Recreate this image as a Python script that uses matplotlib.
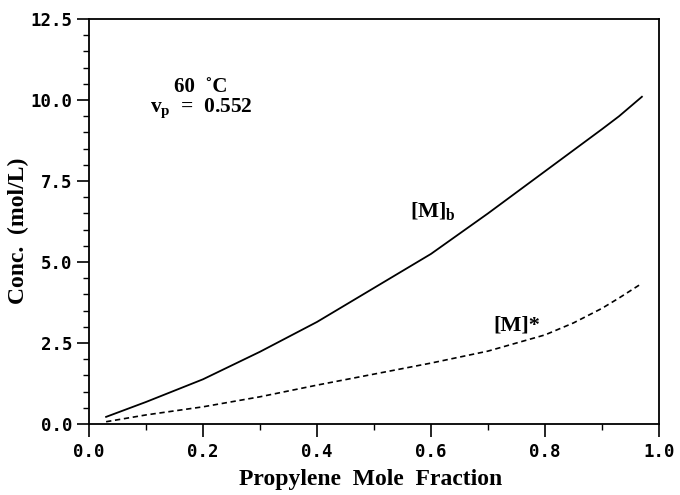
import matplotlib
matplotlib.use("Agg")
import matplotlib.pyplot as plt
from matplotlib.ticker import MultipleLocator

# Propylene mole fraction and monomer concentrations (mol/L)
x_frac = [0.03, 0.1, 0.2, 0.3, 0.4, 0.5, 0.6, 0.7, 0.8, 0.85, 0.9, 0.93, 0.97]
conc_bulk = [0.22, 0.68, 1.38, 2.23, 3.15, 4.20, 5.25, 6.50, 7.80, 8.45, 9.10, 9.50, 10.10]
conc_star = [0.07, 0.28, 0.53, 0.84, 1.20, 1.54, 1.88, 2.25, 2.75, 3.12, 3.57, 3.89, 4.34]

x_ticks = [0.0, 0.2, 0.4, 0.6, 0.8, 1.0]
x_ticklabels = ["0.0", "0.2", "0.4", "0.6", "0.8", "1.0"]
y_ticks = [0.0, 2.5, 5.0, 7.5, 10.0, 12.5]
y_ticklabels = ["0.0", "2.5", "5.0", "7.5", "10.0", "12.5"]

plt.rcParams["mathtext.fontset"] = "custom"
plt.rcParams["mathtext.rm"] = "Liberation Serif:bold"
plt.rcParams["mathtext.it"] = "Liberation Serif:bold"
plt.rcParams["mathtext.bf"] = "Liberation Serif:bold"

serif = dict(family="Liberation Serif", weight="bold")
mono = dict(family="DejaVu Sans Mono", weight="bold", size=12.5)

fig = plt.figure(figsize=(6.8, 4.95), dpi=100)
ax = fig.add_axes([89 / 680, 71 / 495, 570 / 680, 405 / 495])

ax.plot(x_frac, conc_bulk, color="black", lw=1.3)
ax.plot(x_frac, conc_star, color="black", lw=1.2, linestyle=(0, (3.2, 2.2)))

ax.set_xlim(0, 1.0)
ax.set_ylim(0, 12.5)
ax.set_xticks(x_ticks)
ax.set_xticklabels(x_ticklabels, fontdict=mono)
ax.set_yticks(y_ticks)
ax.set_yticklabels(y_ticklabels, fontdict=mono)
ax.xaxis.set_minor_locator(MultipleLocator(0.1))
ax.yaxis.set_minor_locator(MultipleLocator(0.5))
ax.tick_params(which="major", direction="out", length=9, width=1.2, color="black")
ax.tick_params(which="minor", direction="out", length=4.5, width=1.0, color="black")
ax.tick_params(axis="x", which="major", pad=5)
ax.tick_params(axis="y", which="major", pad=3)
for sp in ax.spines.values():
    sp.set_linewidth(1.3)

ax.set_xlabel("Propylene  Mole  Fraction", fontsize=17, **serif)
ax.xaxis.label.set_va("center")
ax.xaxis.set_label_coords((371 - 89) / 570, -(479 - 424) / 405)
ax.set_ylabel("Conc.  (mol/L)", fontsize=17, **serif)
ax.yaxis.label.set_va("center")
ax.yaxis.set_label_coords(-(89 - 18) / 570, (424 - 231) / 405)

ax.text(0.196, 10.25, "60  \u02daC", ha="center", va="baseline", fontsize=15, **serif)
ax.text(0.198, 9.63, r"$v_p$  =  0.552", ha="center", va="baseline", fontsize=15.5, **serif)
ax.text(0.563, 6.39, r"$[M]_b$", ha="left", va="baseline", fontsize=16, **serif)
ax.text(0.709, 2.90, "[M]*", ha="left", va="baseline", fontsize=16, **serif)

fig.savefig("out.png", dpi=100)
